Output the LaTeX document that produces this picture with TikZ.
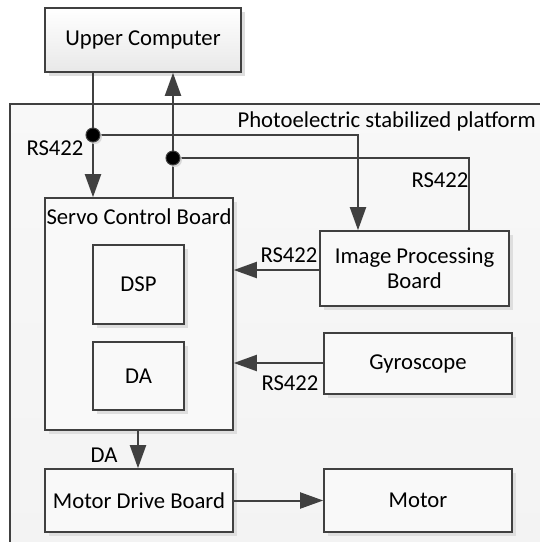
\documentclass[tikz,border=0pt]{standalone}
\usepackage{fontspec}
\setmainfont{Carlito}
\usetikzlibrary{arrows.meta,shadows}
\definecolor{ln}{HTML}{404040}
\definecolor{boxfill}{HTML}{F9F9F9}
\definecolor{platfill}{HTML}{F3F3F3}
\tikzset{
  blk/.style={draw=ln, line width=1.6pt, fill=boxfill, align=center, inner sep=2pt,
    drop shadow={shadow xshift=3.5pt, shadow yshift=-3.5pt, fill=black!13, opacity=1}},
  conn/.style={draw=ln, line width=2pt},
  arr/.style={conn, -{Triangle[length=23pt,width=16pt]}},
  jdot/.style={circle, fill=black, draw=ln, line width=1pt, minimum size=14pt, inner sep=0pt,
    drop shadow={shadow xshift=2pt, shadow yshift=-2pt, fill=black!15, opacity=1}},
  lbl/.style={inner sep=0pt}
}
\begin{document}
\begin{tikzpicture}[x=1pt,y=-1pt, font=\fontsize{22.7}{25}\selectfont]
\useasboundingbox (0,0) rectangle (540,542);
\clip (0,0) rectangle (540,542);
\fill[white] (0,0) rectangle (540,542);
% platform
\draw[ln, line width=1.6pt, top color=platfill!60!white, bottom color=platfill] (10,104) rectangle (560,560);
\node[lbl, anchor=east] (plat) at (536,121) {Photoelectric stabilized platform};
% nodes
\node[blk, minimum width=196pt, minimum height=64pt, top color=white, bottom color=black!9] (upper) at (143,40) {Upper Computer};
\node[blk, minimum width=188pt, minimum height=232pt] (servo) at (139,314) {};
\node[lbl] (servolbl) at (139,217) {Servo Control Board};
\node[blk, minimum width=91pt, minimum height=79pt] (dsp) at (138.5,284.5) {DSP};
\node[blk, minimum width=91pt, minimum height=68pt] (da) at (138.5,376) {DA};
\node[blk, minimum width=189pt, minimum height=75pt] (img) at (414.5,268.5) {Image Processing\\Board};
\node[blk, minimum width=188pt, minimum height=61pt] (gyro) at (418,363.5) {Gyroscope};
\node[blk, minimum width=188pt, minimum height=63pt] (mdb) at (139,500.5) {Motor Drive Board};
\node[blk, minimum width=188pt, minimum height=63pt] (motor) at (418,500.5) {Motor};
% helper coordinates
\coordinate (j1) at (93,135);
\coordinate (j2) at (173,158);
\coordinate (c1) at (358,0);
\coordinate (c2) at (469,0);
\coordinate (c3) at (138,0);
% connectors
\draw[arr] (upper.south -| j1) -- (servo.north -| j1);
\draw[arr] (servo.north -| j2) -- (upper.south -| j2);
\draw[arr] (j1) -| (img.north -| c1);
\draw[conn] (img.north -| c2) |- (j2);
\draw[arr] (img.west |- 0,270) -- (servo.east |- 0,270);
\draw[arr] (gyro.west |- 0,363) -- (servo.east |- 0,363);
\draw[arr] (servo.south -| c3) -- (mdb.north -| c3);
\draw[arr] (mdb.east) -- (motor.west);
\node[jdot] (d1) at (j1) {};
\node[jdot] (d2) at (j2) {};
% labels
\node[lbl] (l1) at (55,148) {RS422};
\node[lbl] (l2) at (440,180) {RS422};
\node[lbl] (l3) at (289,255) {RS422};
\node[lbl] (l4) at (290,383) {RS422};
\node[lbl] (l5) at (104,455) {DA};
\end{tikzpicture}
\end{document}
